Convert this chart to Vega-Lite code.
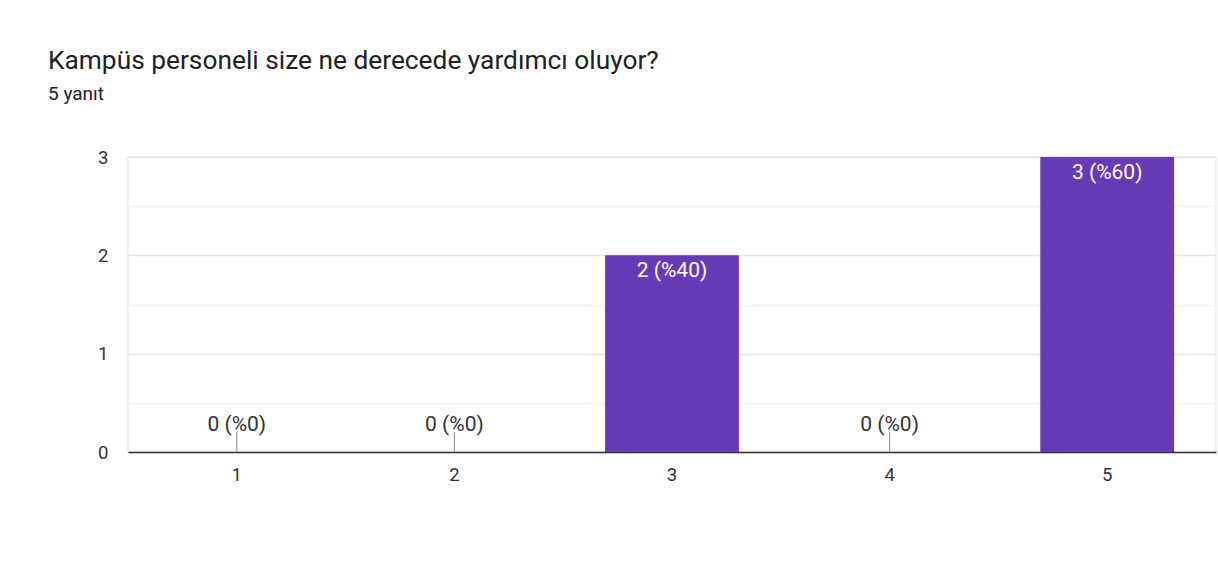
{
  "$schema": "https://vega.github.io/schema/vega-lite/v6.json",
  "width": 1088,
  "height": 295,
  "autosize": "none",
  "padding": {"left": 128, "top": 157, "right": 2, "bottom": 125},
  "background": "#ffffff",
  "title": {
    "text": "Kampüs personeli size ne derecede yardımcı oluyor?",
    "subtitle": "5 yanıt",
    "anchor": "start",
    "frame": "group",
    "dx": -80,
    "offset": 44,
    "font": "Roboto",
    "fontSize": 26.3,
    "fontWeight": "normal",
    "color": "#202124",
    "subtitleFont": "Roboto",
    "subtitleFontSize": 19,
    "subtitleColor": "#202124",
    "subtitlePadding": 11
  },
  "data": {
    "values": [
      {"rating": "1", "count": 0, "label": "0 (%0)"},
      {"rating": "2", "count": 0, "label": "0 (%0)"},
      {"rating": "3", "count": 2, "label": "2 (%40)"},
      {"rating": "4", "count": 0, "label": "0 (%0)"},
      {"rating": "5", "count": 3, "label": "3 (%60)"}
    ]
  },
  "encoding": {
    "x": {
      "field": "rating",
      "type": "nominal",
      "sort": null,
      "scale": {"paddingInner": 0.385, "paddingOuter": 0.1925},
      "axis": {
        "title": null,
        "labelAngle": 0,
        "ticks": false,
        "domain": true,
        "domainColor": "#333333",
        "domainWidth": 1.5,
        "labelPadding": 13,
        "labelFont": "Roboto",
        "labelFontSize": 18.5,
        "labelColor": "#333333",
        "grid": false
      }
    }
  },
  "layer": [
    {
      "mark": {"type": "bar", "color": "#673ab7"},
      "encoding": {
        "y": {
          "field": "count",
          "type": "quantitative",
          "scale": {"domain": [0, 3], "nice": false},
          "axis": {
            "title": null,
            "values": [0, 0.5, 1, 1.5, 2, 2.5, 3],
            "labelExpr": "datum.value % 1 == 0 ? format(datum.value, 'd') : ''",
            "domain": false,
            "ticks": false,
            "grid": true,
            "gridColor": {"condition": {"test": "datum.value % 1 == 0", "value": "#e8e8e8"}, "value": "#f3f3f3"},
            "gridWidth": 1.5,
            "labelPadding": 20,
            "labelFont": "Roboto",
            "labelFontSize": 18.5,
            "labelColor": "#333333"
          }
        }
      }
    },
    {
      "transform": [{"filter": "datum.count == 0"}],
      "mark": {"type": "rule", "color": "#999999", "strokeWidth": 1.2, "y2Offset": -20},
      "encoding": {
        "y": {"field": "count", "type": "quantitative"},
        "y2": {"field": "count"}
      }
    },
    {
      "transform": [{"filter": "datum.count == 0"}],
      "mark": {"type": "text", "baseline": "alphabetic", "dy": -21, "font": "Roboto", "fontSize": 21, "color": "#333333"},
      "encoding": {
        "y": {"field": "count", "type": "quantitative"},
        "text": {"field": "label"}
      }
    },
    {
      "transform": [{"filter": "datum.count > 0"}],
      "mark": {"type": "text", "baseline": "alphabetic", "dy": 22, "font": "Roboto", "fontSize": 21, "color": "#ffffff"},
      "encoding": {
        "y": {"field": "count", "type": "quantitative"},
        "text": {"field": "label"}
      }
    }
  ],
  "config": {
    "view": {"stroke": "#ebebeb", "strokeWidth": 1.5}
  }
}
